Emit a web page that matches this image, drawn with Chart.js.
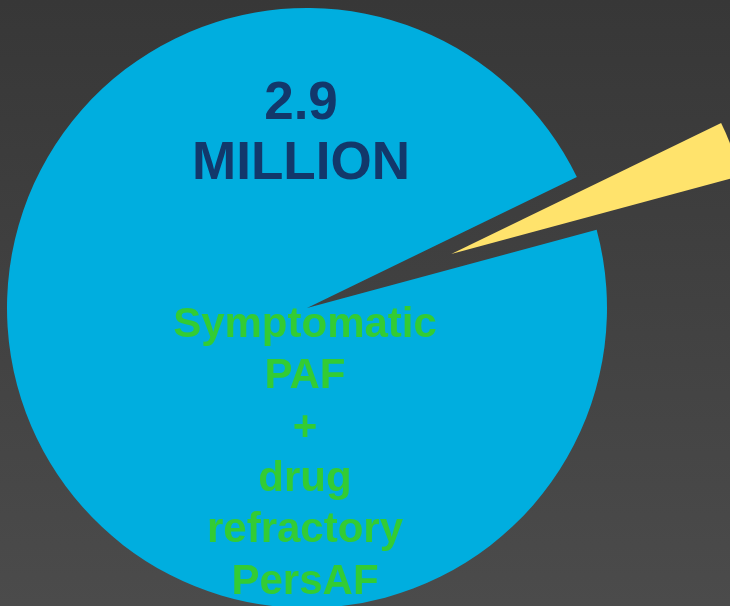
<!DOCTYPE html>
<html>
<head>
<meta charset="utf-8">
<title>2.9 million</title>
<script src="https://cdn.jsdelivr.net/npm/chart.js@4.4.1/dist/chart.umd.min.js"></script>
<style>
    html, body { margin: 0; padding: 0; }
    body {
        width: 730px;
        height: 606px;
        overflow: hidden;
        background: linear-gradient(to bottom, #373737, #4b4b4b);
    }
    canvas { display: block; }
</style>
</head>
<body>
<canvas id="pie-chart" width="730" height="606"></canvas>
<script>
// データ
const LABELS      = ['Other AF', 'Symptomatic PAF + drug refractory PersAF'];
const VALUES      = [3, 97];
const TOTAL_LINES = ['2.9', 'MILLION'];
const GROUP_LINES = ['Symptomatic', 'PAF', '+', 'drug', 'refractory', 'PersAF'];

// スタイル
const COLORS  = ['#ffe36c', '#00aedf'];
const EXPLODE = [154, 0];   // px pulled out along the slice's middle angle

/**
 * 切り出し表示 (slice moved out whole, keeping its angle) ==================
 */
const explodePlugin = {
    id: 'explode',
    afterDatasetsUpdate(chart) {
        const arcs = chart.getDatasetMeta(0).data;
        arcs.forEach((arc, i) => {
            const mid = (arc.startAngle + arc.endAngle) / 2;
            arc.x += Math.cos(mid) * EXPLODE[i];
            arc.y += Math.sin(mid) * EXPLODE[i];
        });
    }
};

/**
 * 円の中の文字 ==========================================================
 */
const textPlugin = {
    id: 'pieText',
    afterDatasetsDraw(chart) {
        const arc = chart.getDatasetMeta(0).data[1];
        const cx  = arc.x;
        const cy  = arc.y;
        const ctx = chart.ctx;
        ctx.save();
        ctx.textAlign = 'center';
        ctx.textBaseline = 'alphabetic';

        ctx.fillStyle = '#12386b';
        ctx.font = 'bold 53px "Liberation Sans", Arial, sans-serif';
        TOTAL_LINES.forEach((t, i) => ctx.fillText(t, cx - 6, cy - 189 + i * 60));

        ctx.fillStyle = '#33cc33';
        ctx.font = 'bold 42px "Liberation Sans", Arial, sans-serif';
        GROUP_LINES.forEach((t, i) => ctx.fillText(t, cx - 2, cy + 29 + i * 51.3));
        ctx.restore();
    }
};

// 描画処理
const myChart = new Chart(document.getElementById('pie-chart'), {
    type: 'pie',
    data: {
        labels: LABELS,
        datasets: [{
            data: VALUES,
            backgroundColor: COLORS,
            borderWidth: 0,
            clip: false,
        }]
    },
    options: {
        responsive: false,
        animation: false,
        events: [],
        rotation: 64.1,
        radius: 300,
        layout: {
            padding: { left: 0, right: 116, top: 10, bottom: 0 }
        },
        plugins: {
            legend: { display: false },
            tooltip: { enabled: false },
        }
    },
    plugins: [explodePlugin, textPlugin]
});
</script>
</body>
</html>
